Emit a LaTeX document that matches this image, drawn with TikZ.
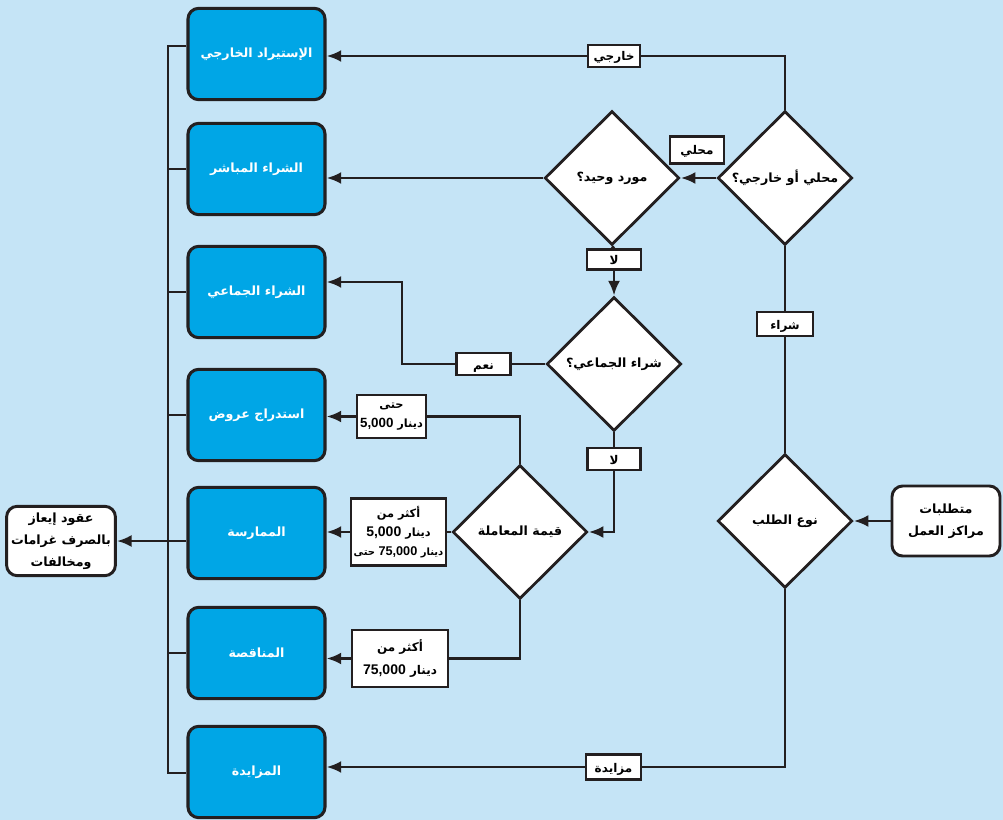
\documentclass[tikz,border=0pt]{standalone}
\usepackage{fontspec}
\usetikzlibrary{shapes.geometric,arrows.meta}
\TeXXeTstate=1
\newfontfamily\arabicfont[Script=Arabic]{DejaVu Sans}
\newfontfamily\latinfont{Liberation Sans}
\newcommand\ar[1]{\beginR#1\endR}
\newcommand\arl[1]{\raisebox{-1.5pt}{\beginR#1\endR}}
\newcommand\nm[2][10.5]{\beginL{\latinfont\bfseries\fontsize{#1}{12}\selectfont #2}\endL}
\definecolor{bg}{RGB}{197,228,246}
\definecolor{boxblue}{RGB}{0,166,230}
\definecolor{ink}{RGB}{35,31,32}
\tikzset{
  bluebox/.style={draw=ink, line width=2.3pt, fill=boxblue, rounded corners=8pt,
    minimum width=102.75pt, minimum height=68.5pt, text=white, align=center,
    font=\arabicfont\bfseries\fontsize{9.5}{11}\selectfont},
  whitebox/.style={draw=ink, line width=2.2pt, fill=white, rounded corners=8pt,
    align=center, font=\arabicfont\bfseries\fontsize{9.5}{16.5}\selectfont},
  dia/.style={shape=diamond, draw=ink, fill=white, line width=2.1pt,
    minimum width=101pt, minimum height=100.5pt, inner sep=0pt, align=center,
    font=\arabicfont\bfseries\fontsize{9.5}{11}\selectfont},
  lab/.style={draw=ink, fill=white, line width=2.1pt, inner sep=0pt, align=center,
    font=\arabicfont\bfseries\fontsize{9}{15}\selectfont},
  labone/.style={lab, text height=6.5pt, text depth=2pt},
  conn/.style={draw=ink, line width=2.1pt},
  arr/.style={conn, -{Latex[length=11pt,width=9pt]}}
}
\begin{document}
\begin{tikzpicture}[x=0.75pt,y=-0.75pt]
\useasboundingbox (0,0) rectangle (1003,820);
\fill[bg] (0,0) rectangle (1003,820);

% blue result boxes
\node[bluebox] (b1) at (256.5,54)  {\ar{الإستيراد الخارجي}};
\node[bluebox] (b2) at (256.5,169) {\ar{الشراء المباشر}};
\node[bluebox] (b3) at (256.5,292) {\ar{الشراء الجماعي}};
\node[bluebox] (b4) at (256.5,415) {\ar{استدراج عروض}};
\node[bluebox] (b5) at (256.5,533) {\ar{الممارسة}};
\node[bluebox] (b6) at (256.5,653) {\ar{المناقصة}};
\node[bluebox] (b7) at (256.5,772) {\ar{المزايدة}};

% decisions
\node[dia] (d1) at (785,178) {\ar{محلي أو خارجي؟}};
\node[dia] (d2) at (612,178) {\ar{مورد وحيد؟}};
\node[dia] (d3) at (614,364) {\ar{شراء الجماعي؟}};
\node[dia] (d4) at (520,532) {\ar{قيمة المعاملة}};
\node[dia] (d5) at (785,521) {\ar{نوع الطلب}};

% input and output
\node[whitebox, minimum width=81pt, minimum height=52.5pt] (in) at (946,521)
  {\ar{متطلبات}\\\ar{مراكز العمل}};
\node[whitebox, minimum width=81pt, minimum height=52pt] (out) at (61,541)
  {\ar{عقود إيعاز}\\\ar{بالصرف غرامات}\\\ar{ومخالفات}};

% labels
\node[labone, minimum width=39pt, minimum height=16.5pt] (lKh) at (614,56) {\arl{خارجي}};
\node[labone, minimum width=40.5pt, minimum height=20pt] (lMh) at (697,150) {\arl{محلي}};
\node[labone, minimum width=40.5pt, minimum height=14.5pt] (lNo1) at (614,259.5) {\arl{لا}};
\node[labone, minimum width=40pt, minimum height=16.5pt] (lYes) at (483.5,364) {\arl{نعم}};
\node[labone, minimum width=40pt, minimum height=16.5pt] (lNo2) at (614,459) {\arl{لا}};
\node[lab, minimum width=51.75pt, minimum height=32.25pt,
      font=\arabicfont\bfseries\fontsize{8.5}{15}\selectfont] (lT) at (391.5,416.5)
  {\ar{حتى}\\[-1pt]\ar{دينار \nm[10]{5,000}}};
\node[lab, minimum width=71.25pt, minimum height=50.25pt,
      font=\arabicfont\bfseries\fontsize{8.5}{14}\selectfont] (lM) at (398.5,532)
  {\ar{أكثر من}\\\ar{دينار \nm{5,000}}\\
   {\fontsize{7.5}{14}\selectfont\ar{دينار \nm[9.5]{75,000} حتى}}};
\node[lab, minimum width=72pt, minimum height=42.75pt,
      font=\arabicfont\bfseries\fontsize{9}{17}\selectfont] (lB) at (400,658.5)
  {\ar{أكثر من}\\\ar{دينار \nm{75,000}}};
\node[labone, minimum width=42pt, minimum height=18pt] (lSh) at (785,324) {\arl{شراء}};
\node[labone, minimum width=41.25pt, minimum height=18.75pt] (lMz) at (613.5,767) {\arl{مزايدة}};

% bus on the left
\coordinate (busTop) at (168,46);
\coordinate (busBot) at (168,773);
\draw[conn] (b1.west |- busTop) -- (busTop) -- (busBot) -- (b7.west |- busBot);
\foreach \b in {b2,b3,b4,b6} \draw[conn] (\b.west) -- (\b.west -| busTop);
\draw[arr] (b5.west |- out.east) -- (out.east);

% connectors
\draw[conn] (d1.north) |- (lKh.east);
\draw[arr] (lKh.west) -- (b1.east |- lKh.west);
\draw[arr] (d1.west) -- (d2.east);
\draw[arr] (d2.west) -- (b2.east |- d2.west);
\draw[conn] (d2.south) -- (lNo1.north);
\draw[arr] (lNo1.south) -- (d3.north);
\draw[conn] (d3.west) -- (lYes.east);
\coordinate (c3) at (402,282);
\draw[arr] (lYes.west) -| (c3) -- (b3.east |- c3);
\draw[conn] (d3.south) -- (lNo2.north);
\draw[arr] (lNo2.south) |- (d4.east);
\draw[conn] (d4.north) |- (lT.east);
\draw[arr] (lT.west) -- (b4.east |- lT.west);
\draw[conn] (d4.west) -- (lM.east);
\draw[arr] (lM.west) -- (b5.east |- lM.west);
\draw[conn] (d4.south) |- (lB.east);
\draw[arr] (lB.west) -- (b6.east |- lB.west);
\draw[arr] (in.west) -- (d5.east);
\draw[conn] (d5.north) -- (lSh.south);
\draw[conn] (lSh.north) -- (d1.south);
\draw[conn] (d5.south) |- (lMz.east);
\draw[arr] (lMz.west) -- (b7.east |- lMz.west);
\end{tikzpicture}
\end{document}
